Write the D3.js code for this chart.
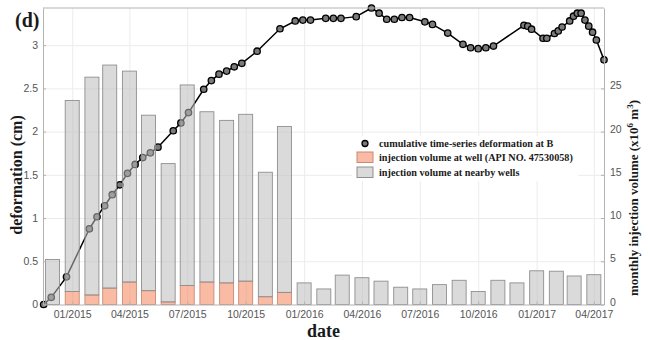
<!DOCTYPE html>
<html>
<head>
<meta charset="utf-8">
<style>
    body { margin: 0; background: #fff; }
    svg { display: block; }

    .axis .tick text {
        font-family: "Liberation Sans", Arial, sans-serif;
        font-size: 10.5px;
        fill: #555;
    }
    .axis .domain, .axis .tick line { stroke: #b3b3b3; }

    .grid line { stroke: #ececec; }
    .grid .domain { display: none; }

    .label {
        font-family: "Liberation Serif", "Times New Roman", serif;
        font-weight: bold;
        fill: #1a1a1a;
    }
</style>
</head>
<body>
<svg width="648" height="340"></svg>

<script src="https://cdn.jsdelivr.net/npm/d3@7"></script>
<script>
    let parseDay = d3.timeParse("%Y-%m-%d")
    let parseMonth = d3.timeParse("%Y-%m")

    // monthly injection volume (x10^6 m3)
    let months = ["2014-12",
        "2015-01", "2015-02", "2015-03", "2015-04", "2015-05", "2015-06",
        "2015-07", "2015-08", "2015-09", "2015-10", "2015-11", "2015-12",
        "2016-01", "2016-02", "2016-03", "2016-04", "2016-05", "2016-06",
        "2016-07", "2016-08", "2016-09", "2016-10", "2016-11", "2016-12",
        "2017-01", "2017-02", "2017-03", "2017-04"]
    let wellVolume = [0,
        1.5, 1.1, 1.9, 2.6, 1.6, 0.3,
        2.2, 2.6, 2.5, 2.7, 0.9, 1.4,
        0, 0, 0, 0, 0, 0,
        0, 0, 0, 0, 0, 0,
        0, 0, 0, 0]
    let nearbyVolume = [5.2,
        22.1, 25.2, 25.8, 24.4, 20.3, 16.0,
        23.2, 19.7, 18.8, 19.3, 14.4, 19.2,
        2.5, 1.8, 3.4, 3.1, 2.7, 2.0,
        1.8, 2.3, 2.8, 1.5, 2.8, 2.5,
        3.9, 3.85, 3.3, 3.45]

    // cumulative deformation at B (cm)
    let defDates = ["2014-11-17", "2014-11-29", "2014-12-23", "2015-01-28", "2015-02-09",
        "2015-02-21", "2015-03-05", "2015-03-17", "2015-03-29", "2015-04-10",
        "2015-04-22", "2015-05-04", "2015-05-16", "2015-06-09", "2015-06-21",
        "2015-07-03", "2015-07-27", "2015-08-08", "2015-08-20", "2015-09-01",
        "2015-09-13", "2015-09-25", "2015-10-19", "2015-11-24", "2015-12-18",
        "2015-12-30", "2016-01-11", "2016-02-04", "2016-02-16", "2016-02-28",
        "2016-03-23", "2016-04-16", "2016-04-28", "2016-05-10", "2016-05-22",
        "2016-06-03", "2016-06-15", "2016-07-09", "2016-07-21", "2016-08-14",
        "2016-09-07", "2016-09-19", "2016-10-01", "2016-10-13", "2016-10-25",
        "2016-12-12", "2016-12-18", "2016-12-24", "2017-01-11", "2017-01-17",
        "2017-01-29", "2017-02-04", "2017-02-10", "2017-02-22", "2017-02-28",
        "2017-03-06", "2017-03-12", "2017-03-18", "2017-03-24", "2017-03-30",
        "2017-04-05", "2017-04-17"]
    let defValues = [0, 0.083, 0.32, 0.876, 1.015,
        1.142, 1.27, 1.385, 1.517, 1.62,
        1.70, 1.755, 1.82, 2.01, 2.10,
        2.22, 2.49, 2.59, 2.665, 2.70,
        2.75, 2.79, 2.93, 3.19, 3.28,
        3.29, 3.29, 3.31, 3.31, 3.31,
        3.33, 3.43, 3.37, 3.30, 3.30,
        3.32, 3.32, 3.27, 3.24, 3.14,
        3.01, 2.97, 2.96, 2.97, 2.99,
        3.23, 3.22, 3.185, 3.08, 3.08,
        3.135, 3.165, 3.21, 3.28, 3.335,
        3.37, 3.37, 3.29, 3.22, 3.15,
        3.06, 2.83]

    let xTicks = ["2015-01", "2015-04", "2015-07", "2015-10", "2016-01",
        "2016-04", "2016-07", "2016-10", "2017-01", "2017-04"]
    let leftTicks = [0, 0.5, 1, 1.5, 2, 2.5, 3]
    let rightTicks = [0, 5, 10, 15, 20, 25]

    let margin = { top: 8, right: 44, bottom: 35.5, left: 43 }
    let width = 648, height = 340

    let svg = d3.select("svg")

    let deformation = defDates.map((d, i) => ({ date: parseDay(d), value: defValues[i] }))
    let bars = months.map((m, i) => ({ date: parseMonth(m), well: wellVolume[i], nearby: nearbyVolume[i] }))

    let x = d3.scaleTime()
        .domain([new Date(2014, 10, 16), new Date(2017, 3, 17)])
        .range([margin.left, width - margin.right])

    let yLeft = d3.scaleLinear()
        .domain([0, 3.43])
        .range([height - margin.bottom, margin.top])

    let yRight = d3.scaleLinear()
        .domain([0, 34.3])
        .range([height - margin.bottom, margin.top])

    let tickDates = xTicks.map(parseMonth)

    // grid
    svg.append("g")
        .attr("class", "grid")
        .attr("transform", `translate(0,${margin.top})`)
        .call(d3.axisBottom(x).tickValues(tickDates).tickSize(height - margin.bottom - margin.top).tickFormat(""))

    svg.append("g")
        .attr("class", "grid")
        .attr("transform", `translate(${margin.left},0)`)
        .call(d3.axisRight(yLeft).tickValues(leftTicks.slice(1)).tickSize(width - margin.left - margin.right).tickFormat(""))

    // deformation line (drawn under the translucent bars)
    let line = d3.line()
        .x(d => x(d.date))
        .y(d => yLeft(d.value))

    svg.append("path")
        .datum(deformation)
        .attr("d", line)
        .style("fill", "none")
        .style("stroke", "#000")
        .style("stroke-width", 1.5)

    svg.append("g")
        .selectAll("circle")
        .data(deformation)
        .join("circle")
        .attr("cx", d => x(d.date))
        .attr("cy", d => yLeft(d.value))
        .attr("r", 3.2)
        .style("fill", "#7a7a7a")
        .style("stroke", "#000")
        .style("stroke-width", 1.3)

    // stacked injection bars
    let stack = d3.stack().keys(["well", "nearby"])(bars)
    let barColors = { well: "#f4835a", nearby: "#bcbcbc" }
    let barWidth = 14

    svg.append("g")
        .selectAll("g")
        .data(stack)
        .join("g")
        .style("fill", d => barColors[d.key])
        .style("fill-opacity", 0.55)
        .style("stroke", d => d.key == "well" ? "#c98a74" : "#8f8f8f")
        .style("stroke-width", 0.9)
        .selectAll("rect")
        .data(d => d.filter(s => s[1] - s[0] > 0))
        .join("rect")
        .attr("x", d => x(d.data.date) - barWidth / 2)
        .attr("y", d => yRight(d[1]))
        .attr("width", barWidth)
        .attr("height", d => yRight(d[0]) - yRight(d[1]))

    // axes
    svg.append("g")
        .attr("class", "axis")
        .attr("transform", `translate(0,${height - margin.bottom})`)
        .call(d3.axisBottom(x).tickValues(tickDates).tickSize(-3).tickSizeOuter(0)
            .tickPadding(6.5).tickFormat(d3.timeFormat("%m/%Y")))

    svg.append("g")
        .attr("class", "axis")
        .attr("transform", `translate(${margin.left},0)`)
        .call(d3.axisLeft(yLeft).tickValues(leftTicks).tickSize(-3).tickSizeOuter(0)
            .tickPadding(5).tickFormat(d3.format("~g")))

    let rightAxis = svg.append("g")
        .attr("class", "axis")
        .attr("transform", `translate(${width - margin.right},0)`)
        .call(d3.axisRight(yRight).tickValues(rightTicks).tickSize(-3).tickSizeOuter(0)
            .tickPadding(6))
    // labels sit a little above their ticks, as in the original
    rightAxis.selectAll(".tick text").attr("dy", "0.05em")

    svg.append("line")
        .attr("x1", margin.left)
        .attr("x2", width - margin.right)
        .attr("y1", margin.top)
        .attr("y2", margin.top)
        .style("stroke", "#b3b3b3")

    // legend
    let legend = svg.append("g").attr("transform", "translate(352,136)")
    legend.append("rect")
        .attr("width", 226).attr("height", 45)
        .style("fill", "#fff")

    legend.append("circle")
        .attr("cx", 13).attr("cy", 7.5).attr("r", 3)
        .style("fill", "#7a7a7a").style("stroke", "#000").style("stroke-width", 1.3)
    legend.append("rect")
        .attr("x", 5).attr("y", 16).attr("width", 16).attr("height", 10.5)
        .style("fill", barColors.well).style("fill-opacity", 0.55).style("stroke", "#c98a74")
    legend.append("rect")
        .attr("x", 5).attr("y", 31).attr("width", 16).attr("height", 10.5)
        .style("fill", barColors.nearby).style("fill-opacity", 0.55).style("stroke", "#8f8f8f")

    let legendText = ["cumulative time-series deformation at B",
        "injection volume at well (API NO. 47530058)",
        "injection volume at nearby wells"]
    legend.selectAll(".legtext")
        .data(legendText)
        .join("text")
        .attr("class", "label legtext")
        .attr("x", 27)
        .attr("y", (d, i) => 11 + i * 14.3)
        .style("font-size", "10.2px")
        .text(d => d)

    // titles
    svg.append("text")
        .attr("class", "label")
        .attr("x", 15).attr("y", 27)
        .style("font-size", "20px")
        .text("(d)")

    svg.append("text")
        .attr("class", "label")
        .attr("transform", "translate(22,175) rotate(-90)")
        .attr("text-anchor", "middle")
        .style("font-size", "16px")
        .text("deformation (cm)")

    svg.append("text")
        .attr("class", "label")
        .attr("x", (margin.left + width - margin.right) / 2)
        .attr("y", 337)
        .attr("text-anchor", "middle")
        .style("font-size", "18px")
        .text("date")

    let rightLabel = svg.append("text")
        .attr("class", "label")
        .attr("transform", "translate(638,198) rotate(-90)")
        .attr("text-anchor", "middle")
        .style("font-size", "13px")
    rightLabel.append("tspan").text("monthly injection volume (x10")
    rightLabel.append("tspan").attr("dy", -5).style("font-size", "9px").text("6")
    rightLabel.append("tspan").attr("dy", 5).text(" m")
    rightLabel.append("tspan").attr("dy", -5).style("font-size", "9px").text("3")
    rightLabel.append("tspan").attr("dy", 5).text(")")
</script>
</body>
</html>
